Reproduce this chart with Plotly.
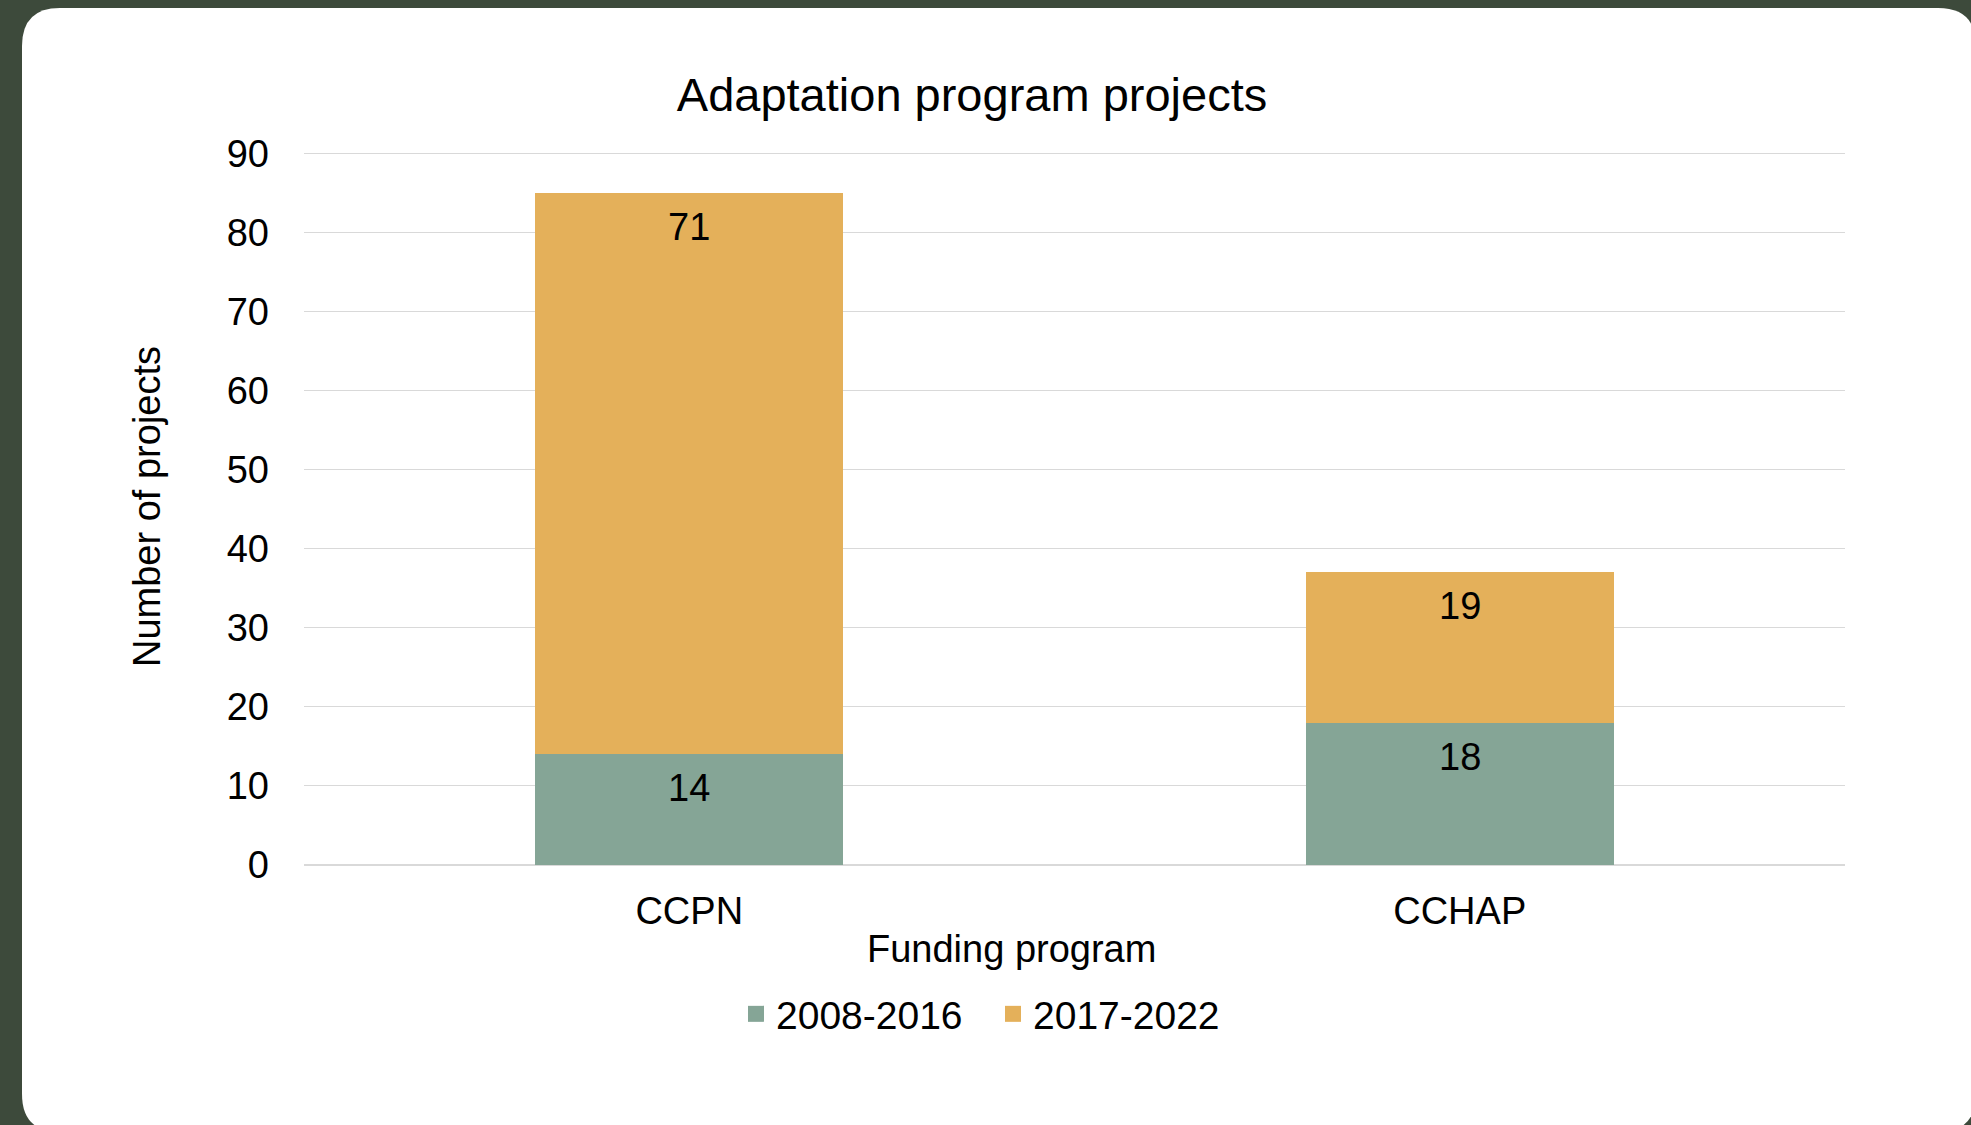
import plotly.graph_objects as go

categories = ["CCPN", "CCHAP"]
series_names = ["2008-2016", "2017-2022"]
values_2008_2016 = [14, 18]
values_2017_2022 = [71, 19]
y_ticks = [0, 10, 20, 30, 40, 50, 60, 70, 80, 90]

colors = ["#85a596", "#e4b05a"]
FONT = "Liberation Sans, Arial, sans-serif"

W, H = 1971, 1125
L, R, T, B = 304, 1845, 151, 865  # plot area in pixels
Y_TOP = 90.3

def px_to_paper(px, py):
    return (px - L) / (R - L), (B - py) / (B - T)

def rounded_rect(x0, y0, x1, y1, r):
    def P(x, y):
        a, b = px_to_paper(x, y)
        return f"{a:.5f},{b:.5f}"
    return (f"M {P(x0 + r, y0)} L {P(x1 - r, y0)} Q {P(x1, y0)} {P(x1, y0 + r)} "
            f"L {P(x1, y1 - r)} Q {P(x1, y1)} {P(x1 - r, y1)} "
            f"L {P(x0 + r, y1)} Q {P(x0, y1)} {P(x0, y1 - r)} "
            f"L {P(x0, y0 + r)} Q {P(x0, y0)} {P(x0 + r, y0)} Z")

fig = go.Figure()
for name, vals, col in zip(series_names, [values_2008_2016, values_2017_2022], colors):
    fig.add_trace(go.Bar(x=categories, y=vals, name=name, showlegend=False,
                         marker=dict(color=col, line=dict(width=0))))
# legend entries with larger square swatches
for name, col in zip(series_names, colors):
    fig.add_trace(go.Scatter(x=[None], y=[None], mode="markers", name=name,
                             marker=dict(symbol="square", size=16, color=col, line=dict(width=0))))

annotations = []
for i, cat in enumerate(categories):
    cum = 0
    for vals in [values_2008_2016, values_2017_2022]:
        cum += vals[i]
        annotations.append(dict(x=cat, y=cum, xref="x", yref="y", text=str(vals[i]),
                                showarrow=False, yanchor="middle", yshift=-34,
                                font=dict(family=FONT, size=38, color="#000000")))

ax, ay = px_to_paper(1011, 949)
annotations.append(dict(x=ax, y=ay, xref="paper", yref="paper", text="Funding program",
                        showarrow=False, xanchor="center", yanchor="middle",
                        font=dict(family=FONT, size=38, color="#000000")))
bx, by = px_to_paper(147, 507)
annotations.append(dict(x=bx, y=by, xref="paper", yref="paper", text="Number of projects",
                        showarrow=False, xanchor="center", yanchor="middle", textangle=-90,
                        font=dict(family=FONT, size=38, color="#000000")))

lx, ly = px_to_paper(993, 1014)

fig.update_layout(
    width=W, height=H,
    barmode="stack", bargap=0.6,
    paper_bgcolor="#3d4a3b", plot_bgcolor="#ffffff",
    margin=dict(l=L, r=W - R, t=T, b=H - B, pad=0),
    font=dict(family=FONT, size=38, color="#000000"),
    title=dict(text="Adaptation program projects", x=972 / W, xref="container", xanchor="center",
               y=1 - 95 / H, yref="container", yanchor="middle",
               font=dict(family=FONT, size=47, color="#000000")),
    xaxis=dict(showgrid=False, showline=False, zeroline=False, ticks="",
               tickfont=dict(family=FONT, size=38, color="#000000"), ticklabelstandoff=20),
    yaxis=dict(range=[0, Y_TOP], tickvals=y_ticks, showgrid=True, gridcolor="#d9d9d9", gridwidth=1.3,
               zeroline=True, zerolinecolor="#d9d9d9", zerolinewidth=1.5, showline=False, ticks="",
               tickfont=dict(family=FONT, size=38, color="#000000"), ticklabelstandoff=34),
    showlegend=True,
    legend=dict(orientation="h", x=lx, y=ly, xanchor="center", yanchor="middle",
                font=dict(family=FONT, size=39, color="#000000"), bgcolor="rgba(0,0,0,0)",
                traceorder="normal", entrywidth=212, entrywidthmode="pixels"),
    annotations=annotations,
    shapes=[dict(type="path", xref="paper", yref="paper", path=rounded_rect(22, 8, 1976, 1132, 38),
                 fillcolor="#ffffff", line=dict(width=0), layer="below")],
)

fig.write_html("out.html", config={"displayModeBar": False},
               post_script="document.body.style.margin='0px';")
